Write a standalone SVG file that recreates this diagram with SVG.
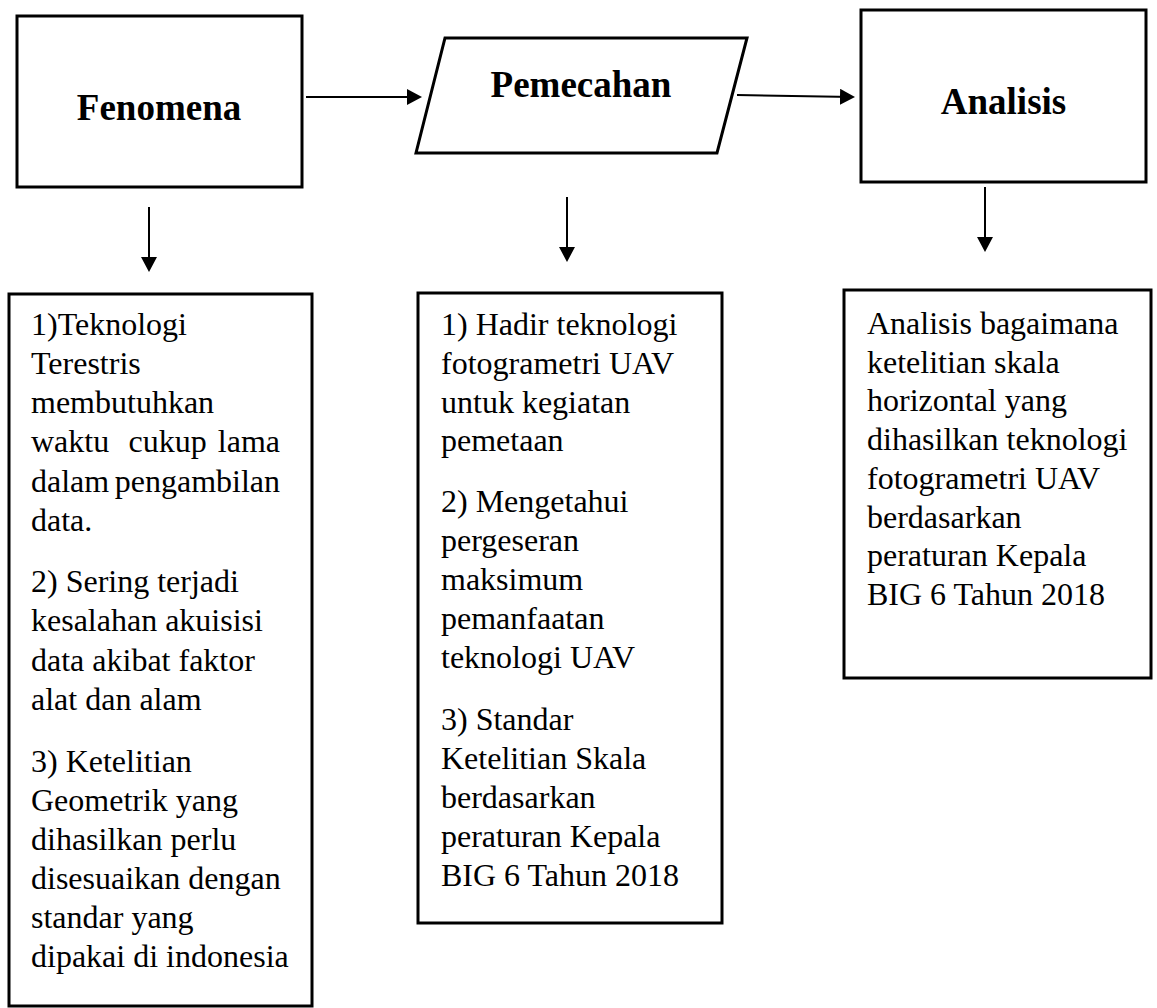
<svg xmlns="http://www.w3.org/2000/svg" width="1157" height="1008" viewBox="0 0 1157 1008">
<style>
.box{fill:#fff;stroke:#000;stroke-width:3}
.title{font-family:"Liberation Serif","Times New Roman",serif;font-weight:bold;font-size:37px;fill:#000;text-anchor:middle}
.body{font-family:"Liberation Serif","Times New Roman",serif;font-size:32px;fill:#000}
.conn{stroke:#000;stroke-width:2;fill:none;marker-end:url(#arrow)}
</style>
<defs>
<marker id="arrow" markerUnits="userSpaceOnUse" markerWidth="16" markerHeight="16" refX="13" refY="8" orient="auto">
<path d="M0,0 L15,8 L0,16 z" fill="#000"/>
</marker>
</defs>
<rect width="1157" height="1008" fill="#fff"/>
<g id="fenomena">
<rect class="box" x="17" y="16" width="285" height="171"/>
<text class="title" x="159" y="120">Fenomena</text>
</g>
<g id="pemecahan">
<polygon class="box" points="445,38 747,38 717,153 416,153"/>
<text class="title" x="581" y="97">Pemecahan</text>
</g>
<g id="analisis">
<rect class="box" x="861" y="10" width="285" height="172"/>
<text class="title" x="1003.5" y="114">Analisis</text>
</g>
<g id="fenomena-detail">
<rect class="box" x="9" y="294" width="303" height="712"/>
<text class="body">
<tspan x="31" y="335">1)Teknologi</tspan>
<tspan x="31" y="374">Terestris</tspan>
<tspan x="31" y="413">membutuhkan</tspan>
<tspan x="31" y="452">waktu</tspan><tspan x="128.5" y="452">cukup</tspan><tspan x="288" y="452" text-anchor="end">lama</tspan>
<tspan x="31" y="492">dalam</tspan><tspan x="288" y="492" text-anchor="end">pengambilan</tspan>
<tspan x="31" y="531">data.</tspan>
<tspan x="31" y="592">2) Sering terjadi</tspan>
<tspan x="31" y="631">kesalahan akuisisi</tspan>
<tspan x="31" y="671">data akibat faktor</tspan>
<tspan x="31" y="710">alat dan alam</tspan>
<tspan x="31" y="772">3) Ketelitian</tspan>
<tspan x="31" y="811">Geometrik yang</tspan>
<tspan x="31" y="850">dihasilkan perlu</tspan>
<tspan x="31" y="889">disesuaikan dengan</tspan>
<tspan x="31" y="928">standar yang</tspan>
<tspan x="31" y="967">dipakai di indonesia</tspan>
</text>
</g>
<g id="pemecahan-detail">
<rect class="box" x="418" y="293" width="304" height="630"/>
<text class="body">
<tspan x="441" y="335">1) Hadir teknologi</tspan>
<tspan x="441" y="374">fotogrametri UAV</tspan>
<tspan x="441" y="413">untuk kegiatan</tspan>
<tspan x="441" y="451">pemetaan</tspan>
<tspan x="441" y="512">2) Mengetahui</tspan>
<tspan x="441" y="551">pergeseran</tspan>
<tspan x="441" y="590">maksimum</tspan>
<tspan x="441" y="629">pemanfaatan</tspan>
<tspan x="441" y="668">teknologi UAV</tspan>
<tspan x="441" y="730">3) Standar</tspan>
<tspan x="441" y="769">Ketelitian Skala</tspan>
<tspan x="441" y="808">berdasarkan</tspan>
<tspan x="441" y="847">peraturan Kepala</tspan>
<tspan x="441" y="886">BIG 6 Tahun 2018</tspan>
</text>
</g>
<g id="analisis-detail">
<rect class="box" x="844" y="290" width="307" height="388"/>
<text class="body">
<tspan x="867" y="334">Analisis bagaimana</tspan>
<tspan x="867" y="373">ketelitian skala</tspan>
<tspan x="867" y="411">horizontal yang</tspan>
<tspan x="867" y="450">dihasilkan teknologi</tspan>
<tspan x="867" y="489">fotogrametri UAV</tspan>
<tspan x="867" y="528">berdasarkan</tspan>
<tspan x="867" y="566">peraturan Kepala</tspan>
<tspan x="867" y="605">BIG 6 Tahun 2018</tspan>
</text>
</g>
<g id="connectors">
<line class="conn" x1="306" y1="97" x2="420" y2="97"/>
<line class="conn" x1="737" y1="95" x2="853" y2="97"/>
<line class="conn" x1="149" y1="207" x2="149" y2="270"/>
<line class="conn" x1="567" y1="197" x2="567" y2="260"/>
<line class="conn" x1="985" y1="187" x2="985" y2="250"/>
</g>
</svg>
